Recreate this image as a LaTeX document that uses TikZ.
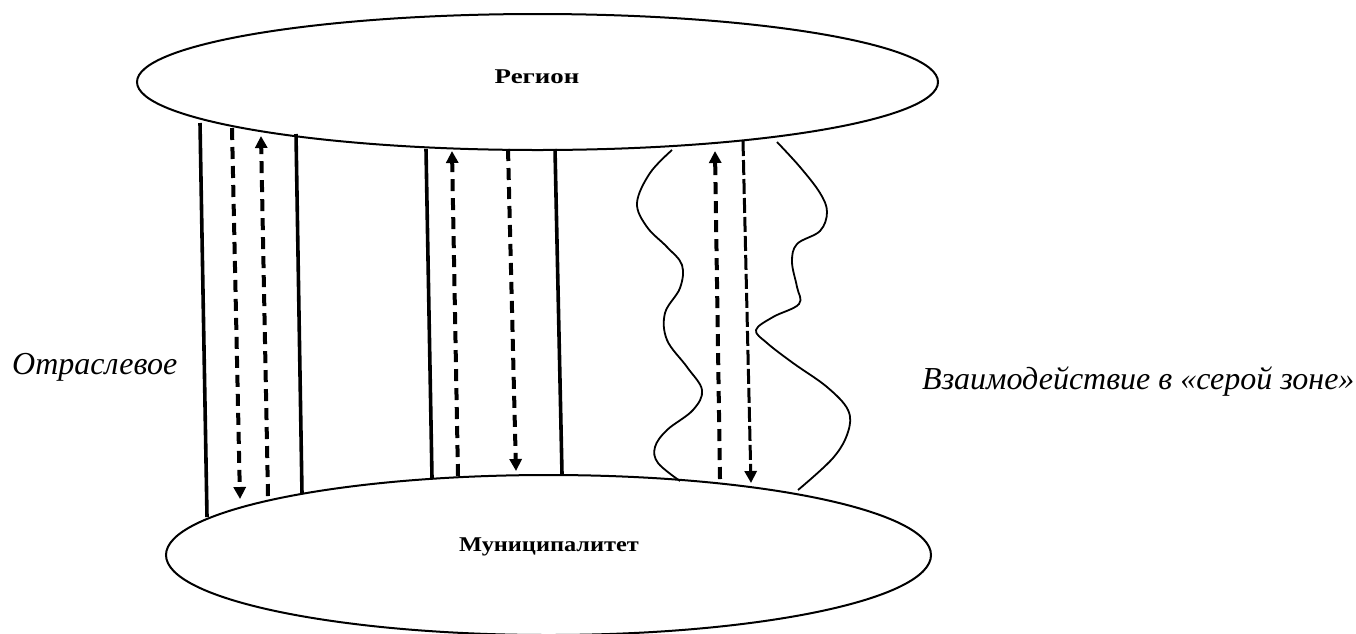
\documentclass[tikz,border=0pt]{standalone}
\usepackage{fontspec}
\setmainfont{Liberation Serif}
\usepackage{graphicx}
\usetikzlibrary{shapes.geometric,arrows.meta}
\tikzset{
  plate/.style={ellipse, draw, line width=2pt, inner sep=0pt},
  platetext/.style={font=\bfseries\fontsize{21}{25}\selectfont},
  sideword/.style={font=\itshape\fontsize{32}{38}\selectfont, inner sep=0pt},
  solidlink/.style={line width=3.6pt},
  dashlink/.style={line width=4pt, dash pattern=on 12pt off 7pt},
  denselink/.style={line width=3pt, dash pattern=on 15pt off 4pt},
  tip/.style={-{Triangle[length=12pt,width=12pt]}},
  wave/.style={line width=1.8pt},
}
\begin{document}
\begin{tikzpicture}[x=1pt,y=-1pt]
\useasboundingbox (0,0) rectangle (1356,633);
\clip (0,0) rectangle (1356,633);
% plates
\node[plate, minimum width=801pt, minimum height=136pt] (region) at (537.5,82) {};
\node[platetext] (regiontext) at (537,77) {\scalebox{1.28}[1]{Регион}};
\node[plate, minimum width=765pt, minimum height=160pt] (muni) at (548.5,555) {};
\node[platetext] (munitext) at (549,547) {\scalebox{1.16}[1]{Муниципалитет}};
% side labels
\node[sideword, anchor=base west] (otr) at (12,374) {Отраслевое};
\node[sideword, anchor=base west] (gray) at (922,389) {Взаимодействие в «серой зоне»};
% group 1 coordinates
\coordinate (s1t) at (200,123); \coordinate (s1b) at (207,517);
\coordinate (d1t) at (232,128); \coordinate (d1b) at (240,499);
\coordinate (u1t) at (261,136); \coordinate (u1b) at (268,496);
\coordinate (s2t) at (296,134); \coordinate (s2b) at (302,494);
% group 2
\coordinate (s3t) at (426,149); \coordinate (s3b) at (432,478);
\coordinate (u2t) at (452,151); \coordinate (u2b) at (458,476);
\coordinate (d2t) at (508,149); \coordinate (d2b) at (516,471);
\coordinate (s4t) at (555,149); \coordinate (s4b) at (562,474);
% group 3
\coordinate (u3t) at (715,151); \coordinate (u3b) at (720,479);
\coordinate (d3t) at (743,141); \coordinate (d3b) at (751,483);
% links
\draw[solidlink] (s1t) -- (s1b);
\draw[dashlink, tip] (d1t) -- (d1b);
\draw[dashlink, tip] (u1b) -- (u1t);
\draw[solidlink] (s2t) -- (s2b);
\draw[solidlink] (s3t) -- (s3b);
\draw[dashlink, tip] (u2b) -- (u2t);
\draw[dashlink, tip] (d2t) -- (d2b);
\draw[solidlink] (s4t) -- (s4b);
\draw[dashlink, tip] (u3b) -- (u3t);
\draw[denselink, tip] (d3t) -- (d3b);
% wavy boundaries of the grey zone
\draw[wave] plot[smooth, tension=0.6] coordinates {
  (672,150) (650,173) (637,203) (647,227) (667,247) (682,265) (680,288)
  (665,313) (667,340) (687,367) (702,390) (693,410) (667,430) (655,447)
  (658,463) (680,481)};
\draw[wave] plot[smooth, tension=0.6] coordinates {
  (777,142) (800,167) (820,193) (827,212) (820,231) (797,244) (792,262)
  (797,287) (799,304) (773,317) (756,330) (767,343) (793,363) (827,387)
  (848,410) (848,432) (833,458) (798,490)};
\end{tikzpicture}
\end{document}
